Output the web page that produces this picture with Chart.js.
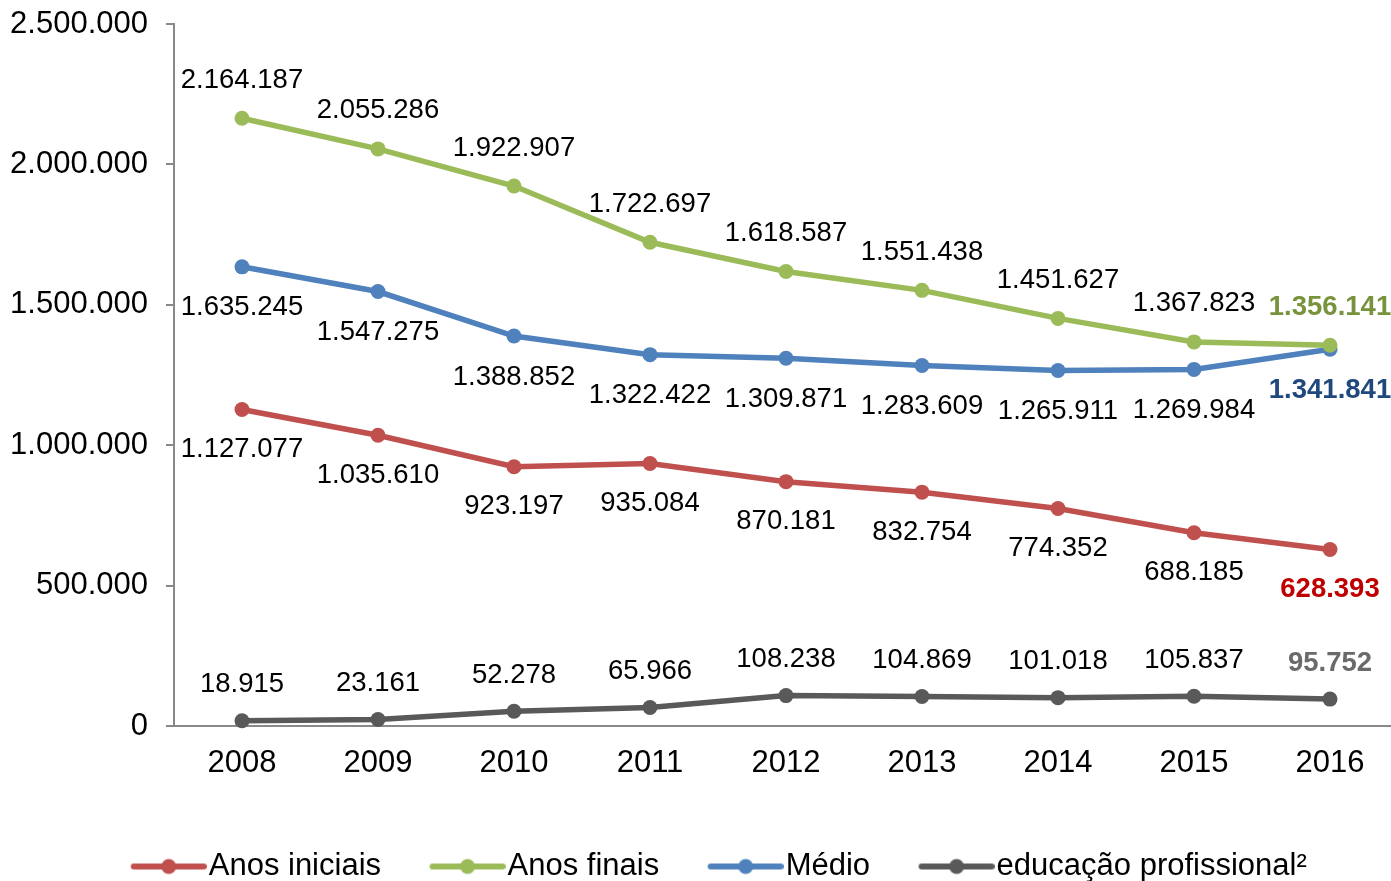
<!DOCTYPE html>
<html>
<head>
<meta charset="utf-8">
<script src="https://cdn.jsdelivr.net/npm/chart.js@4.4.1/dist/chart.umd.min.js"></script>
<style>
  html, body { margin: 0; padding: 0; background: #fff; overflow: hidden; }
  canvas { display: block; }
</style>
</head>
<body>
<canvas id="myChart" width="1398" height="892"></canvas>
<script>
const years = ["2008", "2009", "2010", "2011", "2012", "2013", "2014", "2015", "2016"];
const anosIniciais = [1127077, 1035610, 923197, 935084, 870181, 832754, 774352, 688185, 628393];
const anosFinais = [2164187, 2055286, 1922907, 1722697, 1618587, 1551438, 1451627, 1367823, 1356141];
const medio = [1635245, 1547275, 1388852, 1322422, 1309871, 1283609, 1265911, 1269984, 1341841];
const educProf = [18915, 23161, 52278, 65966, 108238, 104869, 101018, 105837, 95752];
const yTicks = [0, 500000, 1000000, 1500000, 2000000, 2500000];

const FONT = '"Liberation Sans", Arial, sans-serif';

function fmt(n) {
  return String(n).replace(/\B(?=(\d{3})+(?!\d))/g, ".");
}

// line + dot marker for the legend (blank space on the left keeps it next to the text)
function legendMarker(color) {
  const c = document.createElement("canvas");
  c.width = 129;
  c.height = 18;
  const g = c.getContext("2d");
  g.strokeStyle = color;
  g.lineWidth = 6;
  g.lineCap = "round";
  g.beginPath();
  g.moveTo(56, 9);
  g.lineTo(126, 9);
  g.stroke();
  g.fillStyle = color;
  g.beginPath();
  g.arc(91, 9, 7.5, 0, Math.PI * 2);
  g.fill();
  return c;
}

const series = [
  { label: "Anos iniciais", data: anosIniciais, color: "#C0504D", lastColor: "#C00000", dy: 40 },
  { label: "Anos finais", data: anosFinais, color: "#9BBB59", lastColor: "#77933C", dy: -38 },
  { label: "Médio", data: medio, color: "#4F81BD", lastColor: "#1F497D", dy: 41 },
  { label: "educação profissional²", data: educProf, color: "#595959", lastColor: "#6A6A6A", dy: -36 },
];

const valueLabels = {
  id: "valueLabels",
  afterDatasetsDraw(chart) {
    const ctx = chart.ctx;
    ctx.save();
    ctx.textAlign = "center";
    ctx.textBaseline = "middle";
    chart.data.datasets.forEach((ds, di) => {
      const meta = chart.getDatasetMeta(di);
      const s = series[di];
      meta.data.forEach((pt, i) => {
        const last = i === ds.data.length - 1;
        ctx.font = (last ? "bold " : "") + "27.5px " + FONT;
        ctx.fillStyle = last ? s.lastColor : "#000";
        ctx.fillText(fmt(ds.data[i]), pt.x, pt.y + s.dy);
      });
    });
    ctx.restore();
  },
};

new Chart(document.getElementById("myChart"), {
  type: "line",
  data: {
    labels: years,
    datasets: series.map((s) => ({
      label: s.label,
      data: s.data,
      borderColor: s.color,
      backgroundColor: s.color,
      borderWidth: 5.5,
      pointRadius: 7.5,
      pointHoverRadius: 7.5,
      pointBackgroundColor: s.color,
      pointBorderWidth: 0,
      pointStyle: "circle",
      tension: 0,
      fill: false,
      clip: false,
    })),
  },
  options: {
    responsive: false,
    animation: false,
    layout: { autoPadding: false, padding: { top: 24, left: 0, right: 0, bottom: 0 } },
    plugins: {
      tooltip: { enabled: false },
      legend: {
        position: "bottom",
        labels: {
          font: { size: 31, family: FONT },
          color: "#000",
          usePointStyle: true,
          pointStyleWidth: 102,
          padding: 9,
          generateLabels(chart) {
            return series.map((s, i) => ({
              text: s.label,
              pointStyle: legendMarker(s.color),
              fillStyle: s.color,
              strokeStyle: s.color,
              lineWidth: 0,
              hidden: false,
              datasetIndex: i,
              fontColor: "#000",
            }));
          },
        },
      },
    },
    scales: {
      x: {
        offset: true,
        afterFit(scale) {
          scale.height = 116;
          scale.paddingLeft = 0;
          scale.paddingRight = 0;
        },
        grid: { display: false },
        border: { display: true, color: "#898989", width: 2 },
        ticks: { color: "#000", font: { size: 31, family: FONT }, padding: 11 },
      },
      y: {
        min: 0,
        max: 2500000,
        afterBuildTicks(scale) {
          scale.ticks = yTicks.map((v) => ({ value: v }));
        },
        afterFit(scale) {
          scale.width = 174;
          scale.paddingTop = 0;
        },
        grid: {
          display: true,
          drawOnChartArea: false,
          drawTicks: true,
          tickLength: 8,
          color: "#898989",
          lineWidth: 2,
        },
        border: { display: true, color: "#898989", width: 2 },
        ticks: {
          color: "#000",
          font: { size: 31, family: FONT },
          padding: 18,
          callback: (v) => fmt(v),
        },
      },
    },
  },
  plugins: [valueLabels],
});
</script>
</body>
</html>
